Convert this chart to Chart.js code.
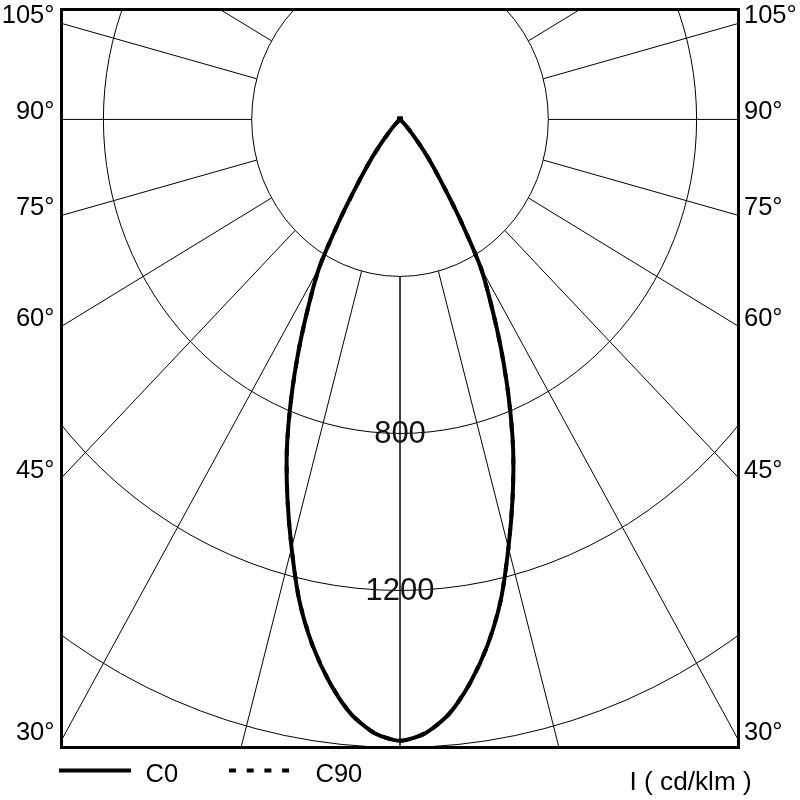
<!DOCTYPE html>
<html><head><meta charset="utf-8">
<script src="https://cdn.jsdelivr.net/npm/chart.js@4.4.1/dist/chart.umd.min.js"></script>
<style>html,body{margin:0;padding:0;background:#fff;}canvas{display:block;}</style>
</head><body>
<canvas id="c" width="800" height="800"></canvas>
<script>
// ---- data ----
const gammaAngles = [0,2.5,5,7.5,10,12.5,15,17.5,20,22.5,25,27.5,30,32.5,35,37.5,40,42.5,45,47.5,50,52.5,55,57.5,60,62.5,65,67.5,70,72.5,75,77.5,80,82.5,85,87.5,90];
const c0Intensity = [1583,1565,1520,1448,1360,1255,1130,1010,892,766,645,533,435,300,195,130,75,42,22,8,0,0,0,0,0,0,0,0,0,0,0,0,0,0,0,0,0];
const c90Intensity = [1583,1565,1520,1448,1360,1255,1130,1010,892,766,645,533,435,300,195,130,75,42,22,8,0,0,0,0,0,0,0,0,0,0,0,0,0,0,0,0,0];
const seriesLabels = ['C0','C90'];
const ringValues = [400,800,1200,1600];
const ringLabelValues = [800,1200];
const ringLabels = ['800','1200'];
const spokeAngles = [0,15,30,45,60,75,90,105,120,135,150,165,180];
const angleTickValues = [30,45,60,75,90,105];
const angleTickLabels = ['30°','45°','60°','75°','90°','105°'];
const unitLabel = 'I ( cd/klm )';

const FONT = '"Liberation Sans", Arial, Helvetica, sans-serif';

function polarPoints(values){
  const pts = [];
  for(let i=gammaAngles.length-1;i>=0;i--){
    const g = gammaAngles[i]*Math.PI/180;
    pts.push({x:-values[i]*Math.sin(g), y:-values[i]*Math.cos(g)});
  }
  for(let i=1;i<gammaAngles.length;i++){
    const g = gammaAngles[i]*Math.PI/180;
    pts.push({x:values[i]*Math.sin(g), y:-values[i]*Math.cos(g)});
  }
  return pts;
}

const gridPlugin = {
  id:'polarGrid',
  beforeDatasetsDraw(chart){
    const {ctx, chartArea:a, scales:{x,y}} = chart;
    const cx = x.getPixelForValue(0), cy = y.getPixelForValue(0);
    ctx.save();
    ctx.beginPath(); ctx.rect(a.left,a.top,a.right-a.left,a.bottom-a.top); ctx.clip();
    ctx.strokeStyle = '#000'; ctx.lineWidth = 1;
    ringValues.forEach(r=>{
      const rx = x.getPixelForValue(r)-cx, ry = y.getPixelForValue(-r)-cy;
      ctx.beginPath(); ctx.ellipse(cx,cy,rx,ry,0,0,Math.PI*2); ctx.stroke();
    });
    const r0 = ringValues[0], r1 = 4000;
    [-1,1].forEach(side=>{
      spokeAngles.forEach(ang=>{
        const g = ang*Math.PI/180;
        const sx = side*Math.sin(g), sy = -Math.cos(g);
        ctx.beginPath();
        ctx.moveTo(x.getPixelForValue(r0*sx), y.getPixelForValue(r0*sy));
        ctx.lineTo(x.getPixelForValue(r1*sx), y.getPixelForValue(r1*sy));
        ctx.stroke();
      });
    });
    ctx.restore();
  },
  afterDatasetsDraw(chart){
    const {ctx, chartArea:a, scales:{x,y}} = chart;
    const cx = x.getPixelForValue(0);
    ctx.save();
    // ring labels
    ctx.fillStyle = '#111';
    ctx.font = '31px '+FONT;
    ctx.textAlign = 'center'; ctx.textBaseline = 'alphabetic';
    ringLabelValues.forEach((v,i)=>{
      ctx.fillText(ringLabels[i], cx, y.getPixelForValue(-v)+9.5);
    });
    // border
    ctx.strokeStyle = '#000'; ctx.lineWidth = 3;
    ctx.strokeRect(a.left,a.top,a.right-a.left,a.bottom-a.top);
    // angle labels
    ctx.fillStyle = '#000';
    ctx.font = '25.5px '+FONT;
    angleTickValues.forEach((ang,i)=>{
      const g = ang*Math.PI/180;
      const t = x.max/Math.sin(g);
      const py = y.getPixelForValue(-t*Math.cos(g));
      ctx.textAlign = 'right'; ctx.fillText(angleTickLabels[i], a.left-7, py);
      ctx.textAlign = 'left'; ctx.fillText(angleTickLabels[i], a.right+5.5, py);
    });
    // legend
    const ds = chart.data.datasets;
    const ly = 770.5;
    const items = [{x0:59,x1:131,tx:145.5},{x0:229,x1:290,tx:315.5}];
    ds.forEach((d,i)=>{
      const it = items[i];
      ctx.save();
      ctx.strokeStyle = d.borderColor; ctx.lineWidth = 4;
      ctx.setLineDash(d.borderDash || []);
      ctx.beginPath(); ctx.moveTo(it.x0,ly); ctx.lineTo(it.x1,ly); ctx.stroke();
      ctx.restore();
      ctx.textAlign='left'; ctx.fillText(d.label, it.tx, 781.5);
    });
    ctx.textAlign='left';
    ctx.font = '26.2px '+FONT;
    ctx.fillText(unitLabel, 629.5, 790);
    ctx.restore();
  }
};

const capRadius = ctx => (ctx.dataIndex === 0 ? 3.6 : 0);

new Chart(document.getElementById('c'), {
  type:'scatter',
  data:{datasets:[
    {label:seriesLabels[0], data:polarPoints(c0Intensity), showLine:true, borderColor:'#000', borderWidth:4, pointRadius:capRadius, pointStyle:'rect', pointBackgroundColor:'#000', pointBorderColor:'#000', pointBorderWidth:1, tension:0.25, fill:false, order:0},
    {label:seriesLabels[1], data:polarPoints(c90Intensity), showLine:true, borderColor:'#000', borderWidth:4, borderDash:[7,10.7], pointRadius:0, tension:0.25, fill:false, order:1}
  ]},
  options:{
    responsive:false, animation:false, devicePixelRatio:1,
    layout:{padding:{left:61.5,right:61.5,top:9.5,bottom:52.5}},
    scales:{
      x:{type:'linear', min:-913, max:913, display:false},
      y:{type:'linear', min:-1600, max:280, display:false}
    },
    plugins:{legend:{display:false}, tooltip:{enabled:false}}
  },
  plugins:[gridPlugin]
});
</script>
</body></html>
